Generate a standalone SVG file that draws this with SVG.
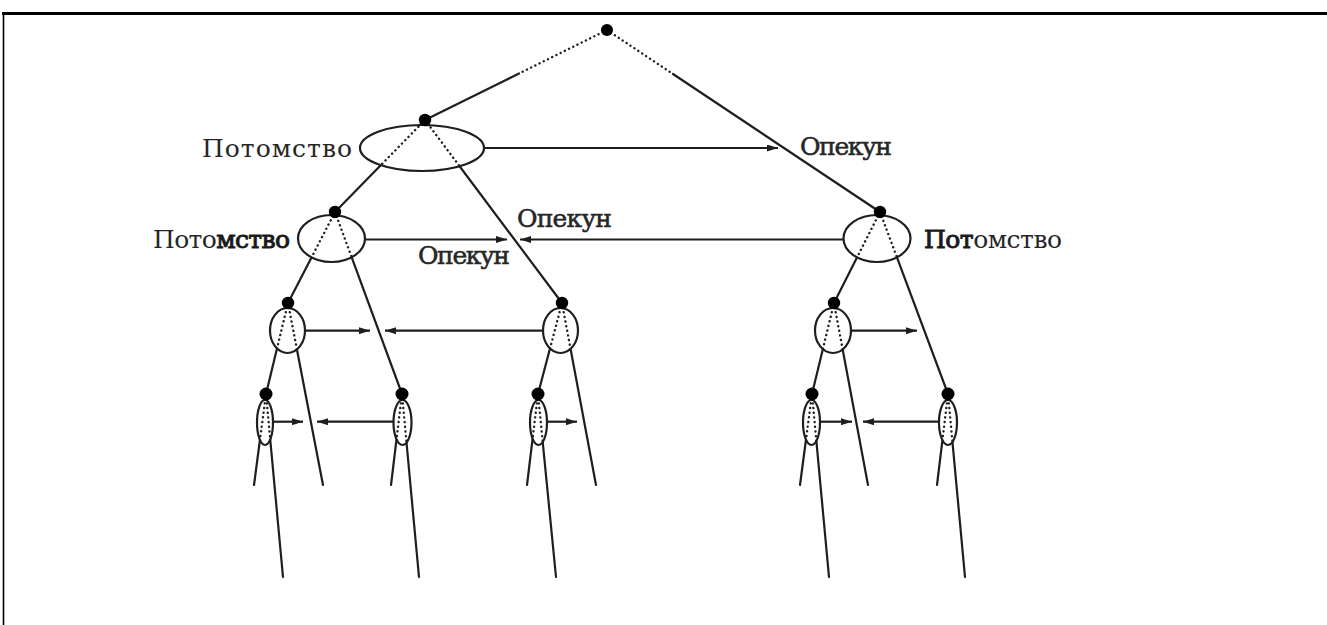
<svg xmlns="http://www.w3.org/2000/svg" width="1327" height="625" viewBox="0 0 1327 625">
  <style>
    .ln { stroke: #1e1e1e; stroke-width: 2.2; fill: none; stroke-linecap: round; }
    .dot-ln { stroke: #1e1e1e; stroke-width: 2.4; fill: none; stroke-linecap: round; stroke-dasharray: 0.1 4.6; }
    .arr { stroke: #1e1e1e; stroke-width: 2.2; fill: none; marker-end: url(#head); }
    .oval { fill: #fff; stroke: #1e1e1e; stroke-width: 2.2; }
    .pt { fill: #000; }
    .lbl { font-family: "DejaVu Serif", "Liberation Serif", serif; font-size: 25px; fill: #262626; }
    .sb { stroke: #262626; stroke-width: 0.55; }
    .b { stroke: #1a1a1a; fill: #1a1a1a; stroke-width: 0.95; }
    .frame { stroke: #000; fill: none; }
  </style>
  <defs>
    <marker id="head" viewBox="0 0 11 7" refX="11" refY="3.5" markerWidth="11" markerHeight="7" markerUnits="userSpaceOnUse" orient="auto">
      <path d="M0,0 L11,3.5 L0,7 z" fill="#1e1e1e"/>
    </marker>
    <clipPath id="cA"><ellipse cx="422" cy="148" rx="62" ry="23"/></clipPath>
    <clipPath id="cB"><ellipse cx="877" cy="238.5" rx="33.5" ry="23.5"/></clipPath>
    <clipPath id="cC"><ellipse cx="331.5" cy="238.5" rx="33.5" ry="23.5"/></clipPath>
    <clipPath id="cD"><ellipse cx="560.5" cy="330.5" rx="17.5" ry="22.5"/></clipPath>
    <clipPath id="cE"><ellipse cx="287.5" cy="330.5" rx="17.5" ry="22.5"/></clipPath>
    <clipPath id="cI"><ellipse cx="833" cy="330.5" rx="18" ry="22.5"/></clipPath>
    <clipPath id="cG"><ellipse cx="265" cy="422.5" rx="8" ry="22.5"/></clipPath>
    <clipPath id="cF"><ellipse cx="402.5" cy="422.5" rx="9" ry="22.5"/></clipPath>
    <clipPath id="cH"><ellipse cx="538.5" cy="422.5" rx="8.5" ry="22.5"/></clipPath>
    <clipPath id="cK"><ellipse cx="811.5" cy="422.5" rx="8.5" ry="22.5"/></clipPath>
    <clipPath id="cJ"><ellipse cx="948" cy="422.5" rx="9" ry="22.5"/></clipPath>
  </defs>

  <rect width="1327" height="625" fill="#fff"/>
  <!-- frame: top rule and left rule -->
  <line class="frame" x1="2" y1="13.5" x2="1327" y2="13.5" stroke-width="3"/>
  <line class="frame" x1="3.5" y1="13" x2="3.5" y2="625" stroke-width="1.6"/>

  <g id="connectors">
    <!-- root branches: dotted near the root, solid further down -->
    <line class="dot-ln" x1="607" y1="30" x2="519" y2="73.5"/>
    <line class="ln" x1="519" y1="73.5" x2="425" y2="120"/>
    <line class="dot-ln" x1="607" y1="30" x2="673" y2="74"/>
    <line class="ln" x1="673" y1="74" x2="880" y2="212"/>

    <!-- tree edges -->
    <line class="ln" x1="425" y1="120" x2="335" y2="212"/>
    <line class="ln" x1="425" y1="120" x2="562" y2="303"/>
    <line class="ln" x1="880" y1="212" x2="834" y2="303"/>
    <line class="ln" x1="880" y1="212" x2="948" y2="394"/>
    <line class="ln" x1="335" y1="212" x2="288" y2="303"/>
    <line class="ln" x1="335" y1="212" x2="402" y2="394"/>
    <line class="ln" x1="562" y1="303" x2="538" y2="394"/>
    <line class="ln" x1="562" y1="303" x2="596" y2="485"/>
    <line class="ln" x1="288" y1="303" x2="266" y2="394"/>
    <line class="ln" x1="288" y1="303" x2="323" y2="485"/>
    <line class="ln" x1="834" y1="303" x2="812" y2="394"/>
    <line class="ln" x1="834" y1="303" x2="868" y2="485"/>
    <line class="ln" x1="266" y1="394" x2="254" y2="485"/>
    <line class="ln" x1="266" y1="394" x2="283" y2="577"/>
    <line class="ln" x1="402" y1="394" x2="391" y2="485"/>
    <line class="ln" x1="402" y1="394" x2="419" y2="577"/>
    <line class="ln" x1="538" y1="394" x2="527" y2="485"/>
    <line class="ln" x1="538" y1="394" x2="556" y2="577"/>
    <line class="ln" x1="812" y1="394" x2="800" y2="485"/>
    <line class="ln" x1="812" y1="394" x2="829" y2="577"/>
    <line class="ln" x1="948" y1="394" x2="937" y2="485"/>
    <line class="ln" x1="948" y1="394" x2="965" y2="577"/>

    <!-- guardian arrows -->
    <line class="arr" x1="484" y1="148" x2="778" y2="148"/>
    <line class="arr" x1="843" y1="239.5" x2="520" y2="239.5"/>
    <line class="arr" x1="365" y1="239.5" x2="507" y2="239.5"/>
    <line class="arr" x1="305" y1="330.7" x2="370" y2="330.7"/>
    <line class="arr" x1="543" y1="330.7" x2="385" y2="330.7"/>
    <line class="arr" x1="851" y1="330.7" x2="917" y2="330.7"/>
    <line class="arr" x1="273" y1="421.7" x2="303" y2="421.7"/>
    <line class="arr" x1="393" y1="421.7" x2="317" y2="421.7"/>
    <line class="arr" x1="547" y1="421.7" x2="577" y2="421.7"/>
    <line class="arr" x1="820" y1="421.7" x2="852" y2="421.7"/>
    <line class="arr" x1="939" y1="421.7" x2="863" y2="421.7"/>
  </g>

  <g id="node-root">
    <circle class="pt" cx="607" cy="30" r="6"/>
  </g>

  <g id="node-a">
    <ellipse class="oval" cx="422" cy="148" rx="62" ry="23"/>
    <g clip-path="url(#cA)">
      <line class="dot-ln" x1="425" y1="120" x2="335" y2="212"/>
      <line class="dot-ln" x1="425" y1="120" x2="562" y2="303"/>
    </g>
    <circle class="pt" cx="425" cy="120" r="6.2"/>
    <text class="lbl" x="202" y="157" textLength="150" lengthAdjust="spacing">Потомство</text>
    <text class="lbl sb" x="800" y="155" textLength="92" lengthAdjust="spacing">Опекун</text>
  </g>

  <g id="node-b">
    <ellipse class="oval" cx="877" cy="238.5" rx="33.5" ry="23.5"/>
    <g clip-path="url(#cB)">
      <line class="dot-ln" x1="880" y1="212" x2="834" y2="303"/>
      <line class="dot-ln" x1="880" y1="212" x2="948" y2="394"/>
    </g>
    <circle class="pt" cx="880" cy="212" r="6.2"/>
    <text class="lbl" x="924" y="248" textLength="138" lengthAdjust="spacing"><tspan class="b">Пот</tspan>омство</text>
    <text class="lbl sb" x="517" y="227" textLength="95" lengthAdjust="spacing">Опекун</text>
  </g>

  <g id="node-c">
    <ellipse class="oval" cx="331.5" cy="238.5" rx="33.5" ry="23.5"/>
    <g clip-path="url(#cC)">
      <line class="dot-ln" x1="335" y1="212" x2="288" y2="303"/>
      <line class="dot-ln" x1="335" y1="212" x2="402" y2="394"/>
    </g>
    <circle class="pt" cx="335" cy="212" r="6.2"/>
    <text class="lbl" x="153" y="248" textLength="137" lengthAdjust="spacing">Пото<tspan class="b">мство</tspan></text>
    <text class="lbl sb" x="418" y="264" textLength="92" lengthAdjust="spacing">Опекун</text>
  </g>

  <g id="node-d">
    <ellipse class="oval" cx="560.5" cy="330.5" rx="17.5" ry="22.5"/>
    <g clip-path="url(#cD)">
      <line class="dot-ln" x1="562" y1="303" x2="538" y2="394"/>
      <line class="dot-ln" x1="562" y1="303" x2="596" y2="485"/>
    </g>
    <circle class="pt" cx="562" cy="303" r="6.2"/>
  </g>

  <g id="node-e">
    <ellipse class="oval" cx="287.5" cy="330.5" rx="17.5" ry="22.5"/>
    <g clip-path="url(#cE)">
      <line class="dot-ln" x1="288" y1="303" x2="266" y2="394"/>
      <line class="dot-ln" x1="288" y1="303" x2="323" y2="485"/>
    </g>
    <circle class="pt" cx="288" cy="303" r="6.2"/>
  </g>

  <g id="node-i">
    <ellipse class="oval" cx="833" cy="330.5" rx="18" ry="22.5"/>
    <g clip-path="url(#cI)">
      <line class="dot-ln" x1="834" y1="303" x2="812" y2="394"/>
      <line class="dot-ln" x1="834" y1="303" x2="868" y2="485"/>
    </g>
    <circle class="pt" cx="834" cy="303" r="6.2"/>
  </g>

  <g id="node-g">
    <ellipse class="oval" cx="265" cy="422.5" rx="8" ry="22.5"/>
    <g clip-path="url(#cG)">
      <line class="dot-ln" x1="266" y1="394" x2="254" y2="485"/>
      <line class="dot-ln" x1="266" y1="394" x2="283" y2="577"/>
    </g>
    <circle class="pt" cx="266" cy="394" r="6.5"/>
  </g>

  <g id="node-f">
    <ellipse class="oval" cx="402.5" cy="422.5" rx="9" ry="22.5"/>
    <g clip-path="url(#cF)">
      <line class="dot-ln" x1="402" y1="394" x2="391" y2="485"/>
      <line class="dot-ln" x1="402" y1="394" x2="419" y2="577"/>
    </g>
    <circle class="pt" cx="402" cy="394" r="6.5"/>
  </g>

  <g id="node-h">
    <ellipse class="oval" cx="538.5" cy="422.5" rx="8.5" ry="22.5"/>
    <g clip-path="url(#cH)">
      <line class="dot-ln" x1="538" y1="394" x2="527" y2="485"/>
      <line class="dot-ln" x1="538" y1="394" x2="556" y2="577"/>
    </g>
    <circle class="pt" cx="538" cy="394" r="6.5"/>
  </g>

  <g id="node-k">
    <ellipse class="oval" cx="811.5" cy="422.5" rx="8.5" ry="22.5"/>
    <g clip-path="url(#cK)">
      <line class="dot-ln" x1="812" y1="394" x2="800" y2="485"/>
      <line class="dot-ln" x1="812" y1="394" x2="829" y2="577"/>
    </g>
    <circle class="pt" cx="812" cy="394" r="6.5"/>
  </g>

  <g id="node-j">
    <ellipse class="oval" cx="948" cy="422.5" rx="9" ry="22.5"/>
    <g clip-path="url(#cJ)">
      <line class="dot-ln" x1="948" y1="394" x2="937" y2="485"/>
      <line class="dot-ln" x1="948" y1="394" x2="965" y2="577"/>
    </g>
    <circle class="pt" cx="948" cy="394" r="6.5"/>
  </g>
</svg>
